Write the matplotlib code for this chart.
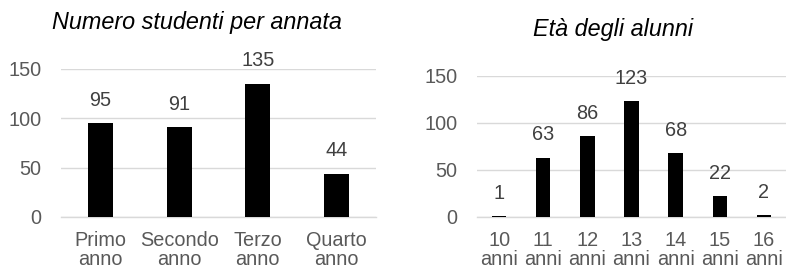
import matplotlib
matplotlib.use('Agg')
import matplotlib.pyplot as plt

plt.rcParams['font.family'] = ['Liberation Sans', 'DejaVu Sans']

# Data
annate = ['Primo\nanno', 'Secondo\nanno', 'Terzo\nanno', 'Quarto\nanno']
studenti = [95, 91, 135, 44]

eta = ['10\nanni', '11\nanni', '12\nanni', '13\nanni', '14\nanni', '15\nanni', '16\nanni']
alunni = [1, 63, 86, 123, 68, 22, 2]

y_ticks = [0, 50, 100, 150]

TICK_COLOR = '#595959'
LABEL_COLOR = '#404040'
GRID_COLOR = '#D9D9D9'
FS = 14.3


def bar_chart(ax, labels, values, width):
    x = range(len(values))
    bars = ax.bar(x, values, width=width, color='black', zorder=3)
    ax.set_xlim(-0.5, len(values) - 0.5)
    ax.set_ylim(0, 150)
    ax.set_yticks(y_ticks)
    ax.set_xticks(list(x))
    ax.set_xticklabels(labels, linespacing=1.02)
    ax.yaxis.grid(True, color=GRID_COLOR, linewidth=1.0, zorder=0)
    for s in ['top', 'right', 'left']:
        ax.spines[s].set_visible(False)
    ax.spines['bottom'].set_color(GRID_COLOR)
    ax.spines['bottom'].set_linewidth(1.0)
    ax.tick_params(axis='both', length=0, labelsize=FS, colors=TICK_COLOR)
    ax.tick_params(axis='y', pad=14)
    ax.tick_params(axis='x', pad=10)
    for b, v in zip(bars, values):
        ax.annotate(str(v), (b.get_x() + b.get_width() / 2, v),
                    xytext=(0, 12.5), textcoords='offset points',
                    ha='center', va='baseline', fontsize=FS,
                    color=LABEL_COLOR, annotation_clip=False)


fig = plt.figure(figsize=(7.86, 2.69), dpi=100)

ax1 = fig.add_axes([61 / 786, 52 / 269, 315 / 786, 148 / 269])
bar_chart(ax1, annate, studenti, 0.32)

ax2 = fig.add_axes([477 / 786, 52 / 269, 309 / 786, 141.3 / 269])
bar_chart(ax2, eta, alunni, 0.33)

fig.text(197 / 786, 1 - 29 / 269, 'Numero studenti per annata', ha='center',
         va='baseline', fontsize=16.8, style='italic', color='black')
fig.text(613 / 786, 1 - 36 / 269, 'Età degli alunni', ha='center',
         va='baseline', fontsize=16.8, style='italic', color='black')

fig.savefig('out.png', dpi=100)
